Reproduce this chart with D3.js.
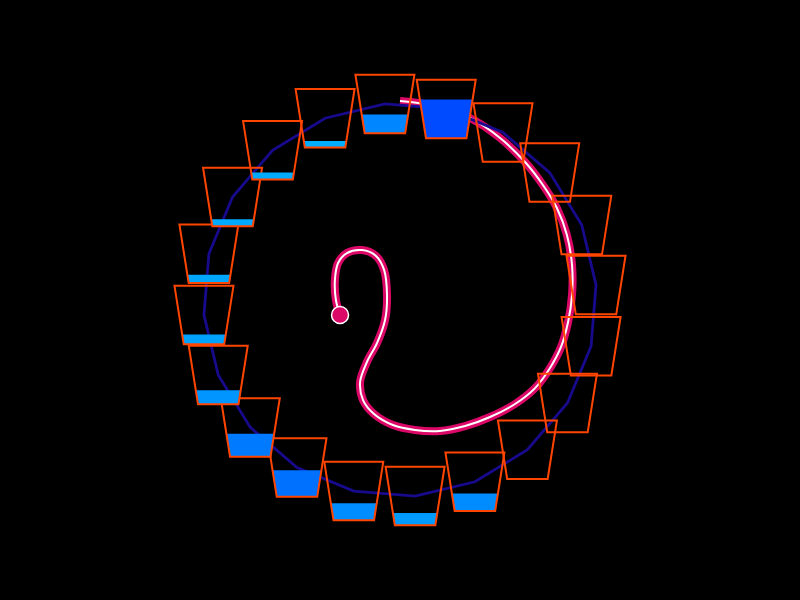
<!DOCTYPE html>
<html>
<head>
<meta charset="utf-8">
<script src="https://cdn.jsdelivr.net/npm/d3@7"></script>
<style>
  html, body { margin: 0; padding: 0; background: #000; }
  svg { display: block; }
</style>
</head>
<body>
<script>
// ---- data ----
const cupIndex = d3.range(20);
const cupLevels = [0.32, 0.66, 0, 0, 0, 0, 0, 0, 0, 0.30, 0.21, 0.29, 0.45, 0.39, 0.24, 0.17, 0.14, 0.12, 0.12, 0.11];
// path in ring units (centre 0,0, ring radius 1, y up)
const pathX = [-0.305,-0.326,-0.331,-0.315,-0.270,-0.193,-0.122,-0.081,-0.066,-0.076,-0.117,-0.168,-0.203,-0.188,-0.132,-0.036,0.076,0.203,0.331,0.458,0.585,0.687,0.763,0.819,0.855,0.875,0.875,0.849,0.798,0.727,0.636,0.509,0.356,0.203,0.092,0.0];
const pathY = [-0.076,0.0,0.102,0.188,0.239,0.254,0.224,0.153,0.025,-0.102,-0.219,-0.315,-0.417,-0.509,-0.580,-0.636,-0.661,-0.666,-0.641,-0.595,-0.529,-0.448,-0.346,-0.239,-0.112,0.025,0.178,0.331,0.468,0.585,0.702,0.824,0.926,0.982,1.002,1.012];

// ---- layout ----
const W = 800, H = 600, CX = 400, CY = 300, R = 196.6;
const cupTopW = 59, cupBotW = 40.5, cupH = 58.5;

const svg = d3.select("body").append("svg").attr("width", W).attr("height", H)
  .style("background", "#000");

const angle = d3.scaleLinear().domain([0, 20]).range([-94.4, 265.6].map(d => d * Math.PI / 180));
const px = d3.scaleLinear().domain([-1, 1]).range([CX - R, CX + R]);
const py = d3.scaleLinear().domain([-1, 1]).range([CY + R, CY - R]);
const color = d3.scaleLinear().domain([0, 0.7]).range(["#00c0ff", "#0044ff"]);
const levelY = d3.scaleLinear().domain([0, 1]).range([cupH / 2, -cupH / 2]);

const cups = cupIndex.map(i => ({
  i, level: cupLevels[i],
  x: CX + R * Math.cos(angle(i)),
  y: CY + R * Math.sin(angle(i))
}));

// magenta path
const pts = pathX.map((x, i) => [px(x), py(pathY[i])]);
const line = d3.line().curve(d3.curveCatmullRom.alpha(0.5));
svg.append("path").attr("d", line(pts)).attr("fill", "none")
  .attr("stroke", "#dc0868").attr("stroke-width", 8);
svg.append("path").attr("d", line(pts)).attr("fill", "none")
  .attr("stroke", "#fff").attr("stroke-width", 2);
svg.append("circle").attr("cx", pts[0][0]).attr("cy", pts[0][1]).attr("r", 8.5)
  .attr("fill", "#dc0868").attr("stroke", "#fff").attr("stroke-width", 1.5);

// navy loop through cup centres
svg.append("path")
  .attr("d", d3.line().x(d => d.x).y(d => d.y).curve(d3.curveLinearClosed)(cups))
  .attr("fill", "none").attr("stroke", "#170a8c").attr("stroke-width", 2.8);

// cups
const halfW = yy => d3.scaleLinear().domain([-cupH / 2, cupH / 2]).range([cupTopW / 2, cupBotW / 2])(yy);
const g = svg.selectAll("g.cup").data(cups).join("g").attr("class", "cup")
  .attr("transform", d => `translate(${d.x},${d.y})`);

g.filter(d => d.level > 0).append("path")
  .attr("d", d => {
    const ly = levelY(d.level), hb = cupH / 2;
    return `M${-halfW(ly)},${ly}L${halfW(ly)},${ly}L${halfW(hb)},${hb}L${-halfW(hb)},${hb}Z`;
  })
  .attr("fill", d => color(d.level));

g.append("path")
  .attr("d", () => {
    const t = -cupH / 2, b = cupH / 2;
    return `M${-cupTopW / 2},${t}L${cupTopW / 2},${t}L${cupBotW / 2},${b}L${-cupBotW / 2},${b}Z`;
  })
  .attr("fill", "none").attr("stroke", "#ff4500").attr("stroke-width", 2);
</script>
</body>
</html>
